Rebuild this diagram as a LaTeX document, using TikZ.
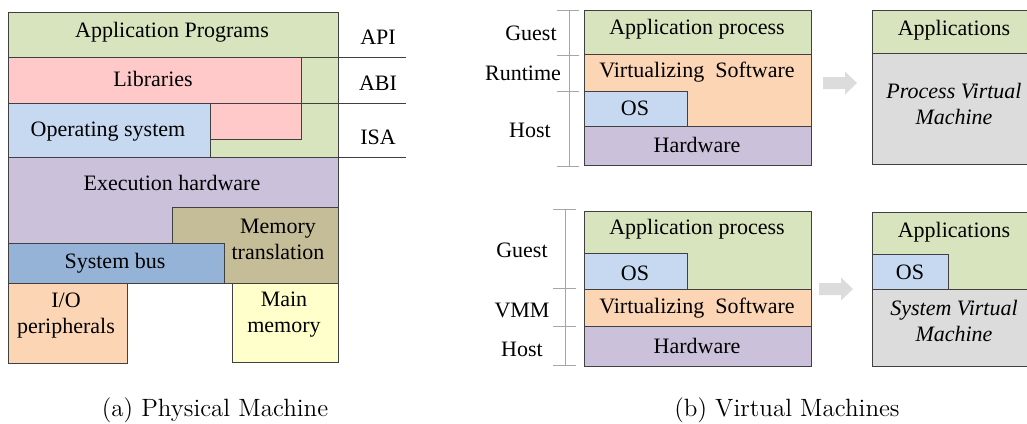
\documentclass[tikz,border=0pt]{standalone}
\usepackage{fontspec}
\newfontfamily\tnr{Liberation Serif}
\usepackage{tikz}
\usetikzlibrary{shapes}

\definecolor{appgreen}{HTML}{D7E4BD}
\definecolor{libpink}{HTML}{FFC9C9}
\definecolor{osblue}{HTML}{C6D9F1}
\definecolor{hwpurple}{HTML}{CCC1DA}
\definecolor{memtan}{HTML}{C4BD97}
\definecolor{busblue}{HTML}{95B3D7}
\definecolor{iopeach}{HTML}{FCD5B5}
\definecolor{memyellow}{HTML}{FFFFCC}
\definecolor{vmgray}{HTML}{DCDCDC}
\definecolor{edgegray}{HTML}{404040}
\definecolor{axisgray}{HTML}{A6A6A6}

\begin{document}
\begin{tikzpicture}[x=0.5pt,y=-0.5pt,
		layer/.style={draw=edgegray, line width=0.5pt},
		lbl/.style={font=\tnr\fontsize{11}{13}\selectfont, align=center, inner sep=0pt},
		vmlbl/.style={lbl, font=\tnr\itshape\fontsize{11}{13}\selectfont},
		axis/.style={draw=axisgray, line width=0.5pt},
		caption/.style={font=\fontsize{12.5}{15}\selectfont, inner sep=0pt}]
		\useasboundingbox (0,0) rectangle (1027,423);

		% (a) physical machine
		\draw[layer, fill=appgreen] (8,12) rectangle (338,157);
		\draw[layer, fill=libpink] (8,57) -- (301,57) -- (301,139) -- (210,139) -- (210,103) -- (8,103) -- cycle;
		\draw[layer, fill=osblue] (8,103) rectangle (210,157);
		\draw[layer, fill=hwpurple] (8,157) -- (338,157) -- (338,207) -- (172,207) -- (172,243) -- (8,243) -- cycle;
		\draw[layer, fill=memtan] (172,207) rectangle (338,283);
		\draw[layer, fill=busblue] (8,243) rectangle (224,283);
		\draw[layer, fill=iopeach] (8,283) rectangle (127,363);
		\draw[layer, fill=memyellow] (232,283) rectangle (338,362);
		\foreach \y in {57,103,157}
			\draw[layer] (8,\y) -- (406,\y);
		\node[lbl] (appprog) at (172,32) {Application Programs};
		\node[lbl] (libs) at (153,79) {Libraries};
		\node[lbl] (opsys) at (108,132) {Operating system};
		\node[lbl] (exechw) at (172,183) {Execution hardware};
		\node[lbl] (memtrans) at (278,239) {Memory\\translation};
		\node[lbl] (sysbus) at (115,263) {System bus};
		\node[lbl] (iodev) at (66,316) {I/O\\peripherals};
		\node[lbl] (mainmem) at (284,315) {Main\\memory};
		\node[lbl] (api) at (378,37) {API};
		\node[lbl] (abi) at (378,83) {ABI};
		\node[lbl] (isa) at (378,137) {ISA};

		% (b) process virtual machine
		\draw[layer, fill=appgreen] (584,10) rectangle (811,54);
		\draw[layer, fill=iopeach] (584,54) rectangle (811,126);
		\draw[layer, fill=osblue] (584,91) rectangle (687,126);
		\draw[layer, fill=hwpurple] (584,126) rectangle (811,165);
		\draw[axis] (569,10) -- (569,166);
		\foreach \y in {10,55,91,166}
			\draw[axis] (557,\y) -- (579,\y);
		\node[lbl] (pappl) at (697,29) {Application process};
		\node[lbl] (pvsw) at (697,72) {Virtualizing~ Software};
		\node[lbl] (pos) at (635,108) {OS};
		\node[lbl] (phw) at (697,145) {Hardware};
		\node[lbl] (pguest) at (531,33) {Guest};
		\node[lbl] (pruntime) at (523,73) {Runtime};
		\node[lbl] (phost) at (530,130) {Host};
		\fill[vmgray] (823,77) -- (845,77) -- (845,71.5) -- (857,83) -- (845,94.5) -- (845,89) -- (823,89) -- cycle;
		\draw[layer, fill=appgreen] (872,10) rectangle (1027,53);
		\draw[layer, fill=vmgray] (872,53) rectangle (1027,164);
		\node[lbl] (papps) at (954,30) {Applications};
		\node[vmlbl] (pvm) at (954,104) {Process Virtual\\Machine};

		% (b) system virtual machine
		\draw[layer, fill=appgreen] (584,211) rectangle (811,289);
		\draw[layer, fill=osblue] (584,253) rectangle (687,289);
		\draw[layer, fill=iopeach] (584,289) rectangle (811,326);
		\draw[layer, fill=hwpurple] (584,326) rectangle (811,366);
		\draw[axis] (565,209) -- (565,365);
		\foreach \y in {209,288,326,365}
			\draw[axis] (553,\y) -- (576,\y);
		\node[lbl] (sappl) at (697,229) {Application process};
		\node[lbl] (sos) at (635,273) {OS};
		\node[lbl] (svsw) at (697,308) {Virtualizing~ Software};
		\node[lbl] (shw) at (697,346) {Hardware};
		\node[lbl] (sguest) at (522,250) {Guest};
		\node[lbl] (svmm) at (522,310) {VMM};
		\node[lbl] (shost) at (522,349) {Host};
		\fill[vmgray] (819,283) -- (841,283) -- (841,277.5) -- (853,289) -- (841,300.5) -- (841,295) -- (819,295) -- cycle;
		\draw[layer, fill=appgreen] (872,212) rectangle (1027,289);
		\draw[layer, fill=osblue] (872,254) rectangle (948,289);
		\draw[layer, fill=vmgray] (872,289) rectangle (1027,366);
		\node[lbl] (sapps) at (954,232) {Applications};
		\node[lbl] (svmos) at (910,272) {OS};
		\node[vmlbl] (svm) at (954,321) {System Virtual\\Machine};

		% captions
		\node[caption] (capa) at (215,410) {(a) Physical Machine};
		\node[caption] (capb) at (787,410) {(b) Virtual Machines};
	\end{tikzpicture}
\end{document}
